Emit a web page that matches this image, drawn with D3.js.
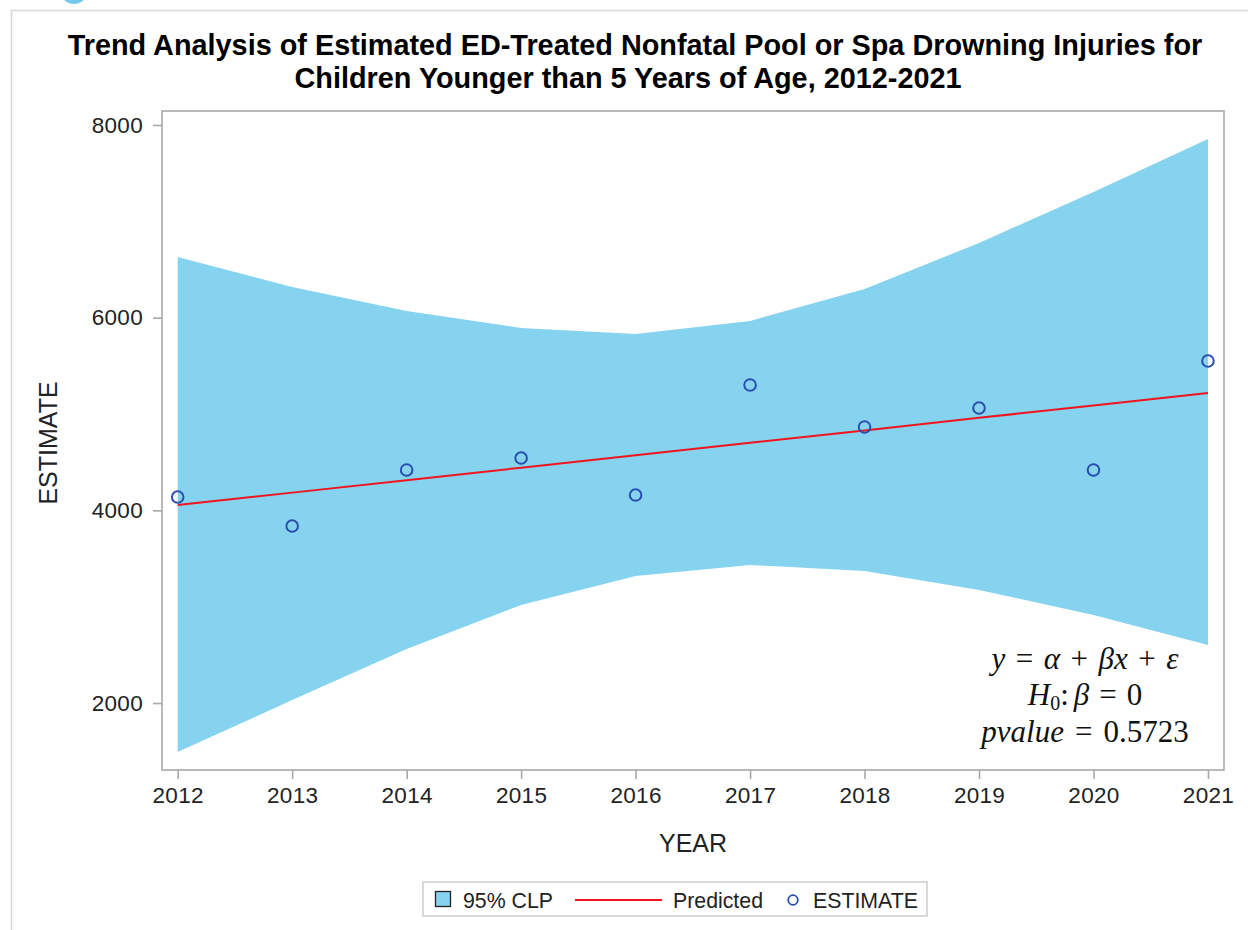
<!DOCTYPE html>
<html>
<head>
<meta charset="utf-8">
<script src="https://cdn.jsdelivr.net/npm/d3@7"></script>
<style>
  html, body { margin: 0; padding: 0; background: #fff; }
  svg { display: block; }
</style>
</head>
<body>
<svg id="chart" width="1248" height="930"></svg>
<script>
// ---- data ----
const years     = [2012, 2013, 2014, 2015, 2016, 2017, 2018, 2019, 2020, 2021];
const estimate  = [4138, 3837, 4419, 4543, 4159, 5301, 4865, 5062, 4419, 5550];
const predicted = [4055, 4184, 4313, 4443, 4572, 4701, 4830, 4960, 5089, 5218];
const clpUpper  = [6630, 6319, 6069, 5893, 5831, 5966, 6298, 6775, 7305, 7855];
const clpLower  = [1491, 2031, 2561, 3017, 3318, 3433, 3370, 3173, 2913, 2602];
const yTicks    = [2000, 4000, 6000, 8000];
const titleLines = [
  "Trend Analysis of Estimated ED-Treated Nonfatal Pool or Spa Drowning Injuries for",
  "Children Younger than 5 Years of Age, 2012-2021"
];
const legendLabels = ["95% CLP", "Predicted", "ESTIMATE"];

// ---- layout ----
const svg = d3.select("#chart");
const plot = { left: 162, top: 111, right: 1224, bottom: 770 };
const bandColor = "#86D3EF";
const lineColor = "#F0141E";
const markColor = "#2A4DB0";
const frameColor = "#A8A8A8";
const sans = "'Liberation Sans', Arial, sans-serif";
const serif = "'Liberation Serif', 'Times New Roman', serif";

const x = d3.scaleLinear().domain([2011.863, 2021.14]).range([plot.left, plot.right]);
const y = d3.scaleLinear().domain([1305, 8145]).range([plot.bottom, plot.top]);

// outer page frame & decorative artifact
svg.append("circle").attr("cx", 74).attr("cy", -10).attr("r", 14).attr("fill", "#74C8EE");
svg.append("path").attr("d", "M11.5,930 V10.5 H1248")
  .attr("fill", "none").attr("stroke", "#D8D8D8").attr("stroke-width", 1.6);

// title
const title = svg.append("g");
const titleX = [635, 628];
titleLines.forEach((t, i) => {
  title.append("text")
    .attr("x", titleX[i]).attr("y", 55 + i * 33)
    .attr("text-anchor", "middle")
    .attr("font-family", sans).attr("font-weight", "bold")
    .attr("font-size", 24).attr("fill", "#000")
    .text(t);
});
{
  const n = title.select("text").node();
  const w = n.getComputedTextLength();
  title.selectAll("text").attr("font-size", 24 * 1135 / w);
}

const data = years.map((yr, i) => ({
  yr, est: estimate[i], pred: predicted[i], up: clpUpper[i], lo: clpLower[i]
}));

// band
const area = d3.area().x(d => x(d.yr)).y0(d => y(d.lo)).y1(d => y(d.up));
svg.append("path").datum(data).attr("d", area).attr("fill", bandColor);

// predicted line
const line = d3.line().x(d => x(d.yr)).y(d => y(d.pred));
svg.append("path").datum(data).attr("d", line)
  .attr("fill", "none").attr("stroke", lineColor).attr("stroke-width", 2);

// estimate markers
svg.append("g").selectAll("circle").data(data).join("circle")
  .attr("cx", d => x(d.yr)).attr("cy", d => y(d.est)).attr("r", 5.8)
  .attr("fill", "none").attr("stroke", markColor).attr("stroke-width", 2);

// plot frame
svg.append("rect")
  .attr("x", plot.left).attr("y", plot.top)
  .attr("width", plot.right - plot.left).attr("height", plot.bottom - plot.top)
  .attr("fill", "none").attr("stroke", frameColor).attr("stroke-width", 1.6);

// axes
const yAxis = d3.axisLeft(y).tickValues(yTicks).tickSize(9).tickPadding(10).tickFormat(d3.format("d"));
const gy = svg.append("g").attr("transform", `translate(${plot.left},0)`).call(yAxis);
const xAxis = d3.axisBottom(x).tickValues(years).tickSize(9).tickPadding(8).tickFormat(d3.format("d"));
const gx = svg.append("g").attr("transform", `translate(0,${plot.bottom})`).call(xAxis);
[gx, gy].forEach(g => {
  g.select(".domain").remove();
  g.selectAll(".tick line").attr("stroke", frameColor).attr("stroke-width", 1.6);
  g.selectAll(".tick text").attr("font-family", sans).attr("font-size", 22.5)
    .attr("letter-spacing", 0.3).attr("fill", "#222");
});

// axis labels
svg.append("text").attr("transform", "translate(57,443) rotate(-90)")
  .attr("text-anchor", "middle").attr("font-family", sans).attr("font-size", 25).attr("fill", "#222")
  .text("ESTIMATE");
svg.append("text").attr("x", 693).attr("y", 852)
  .attr("text-anchor", "middle").attr("font-family", sans).attr("font-size", 25).attr("fill", "#222")
  .text("YEAR");

// equation annotation  [text, style, dx]
const eq = svg.append("g").attr("font-family", serif).attr("font-size", 31).attr("fill", "#111");
function eqLine(yb, parts) {
  const t = eq.append("text").attr("x", 1085).attr("y", yb).attr("text-anchor", "middle");
  parts.forEach(p => {
    const s = t.append("tspan").text(p[0]);
    if (p[1] === "i") s.attr("font-style", "italic");
    if (p[1] === "sub") s.attr("font-size", 20).attr("dy", 5);
    if (p[1] === "up") s.attr("dy", -5);
    if (p[2]) s.attr("dx", p[2]);
  });
}
eqLine(669, [["y", "i"], ["=", "", 10.5], ["α", "i", 10.5], ["+", "", 10.5], ["βx", "i", 10.5],
             ["+", "", 10.5], ["ε", "i", 10.5]]);
eqLine(705, [["H", "i"], ["0", "sub"], [":", "up"], ["β", "i", 5], ["=", "", 10], ["0", "", 10]]);
eqLine(742, [["pvalue", "i"], ["=", "", 11], ["0.5723", "", 11]]);

// legend
const lg = svg.append("g");
lg.append("rect").attr("x", 423).attr("y", 882).attr("width", 504).attr("height", 34)
  .attr("fill", "#fff").attr("stroke", "#D0D0D0").attr("stroke-width", 1.6);
lg.append("rect").attr("x", 435.5).attr("y", 891.5).attr("width", 15).attr("height", 15)
  .attr("fill", bandColor).attr("stroke", "#222").attr("stroke-width", 1.3);
lg.append("line").attr("x1", 575).attr("x2", 662).attr("y1", 900).attr("y2", 900)
  .attr("stroke", lineColor).attr("stroke-width", 2);
lg.append("circle").attr("cx", 793).attr("cy", 900).attr("r", 4.8)
  .attr("fill", "none").attr("stroke", markColor).attr("stroke-width", 1.8);
const lx = [463, 673, 813];
legendLabels.forEach((t, i) => {
  lg.append("text").attr("x", lx[i]).attr("y", 907.5)
    .attr("font-family", sans).attr("font-size", 21.3).attr("fill", "#222").text(t);
});
</script>
</body>
</html>
